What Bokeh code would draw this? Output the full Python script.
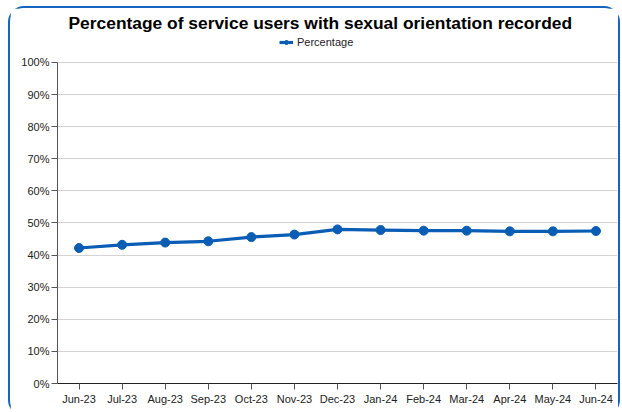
from bokeh.plotting import figure
from bokeh.models import (FactorRange, Range1d, FixedTicker, PrintfTickFormatter,
                          Legend, LegendItem, ColumnDataSource)
from bokeh.embed import file_html
from bokeh.resources import INLINE

months = ["Jun-23", "Jul-23", "Aug-23", "Sep-23", "Oct-23", "Nov-23", "Dec-23",
          "Jan-24", "Feb-24", "Mar-24", "Apr-24", "May-24", "Jun-24"]
percentage = [42.2, 43.2, 43.9, 44.3, 45.6, 46.4, 48.0, 47.8, 47.6, 47.6, 47.4, 47.4, 47.5]
y_ticks = [0, 10, 20, 30, 40, 50, 60, 70, 80, 90, 100]

FONT = "Liberation Sans"
BLUE = "#0a5db5"

src = ColumnDataSource(dict(x=months, y=percentage))

p = figure(width=612, height=410, output_backend="svg", toolbar_location=None,
           x_range=FactorRange(*months, range_padding=0), y_range=Range1d(0, 108.4),
           min_border_left=47, min_border_right=5, min_border_bottom=35, min_border_top=26)
p.styles = {"border": "2px solid #1565c0", "border-radius": "16px",
            "margin-left": "8px", "margin-top": "6px", "margin-bottom": "-12px"}

p.title.text = "Percentage of service users with sexual orientation recorded"
p.title.text_font = FONT
p.title.text_font_size = "17.4px"
p.title.text_font_style = "bold"
p.title.text_color = "#000000"
p.title.align = "left"
p.title.offset = 11
p.title.standoff = 5

ln = p.line("x", "y", source=src, line_color=BLUE, line_width=3.2)
sc = p.scatter("x", "y", source=src, marker="circle", size=9, fill_color=BLUE, line_color=BLUE)

legend = Legend(items=[LegendItem(label="Percentage", renderers=[ln, sc])],
                orientation="horizontal", location=(222, 335),
                label_text_font=FONT, label_text_font_size="11px", label_text_color="#222222",
                glyph_width=14, glyph_height=10, label_standoff=4,
                padding=0, margin=0, spacing=0, border_line_alpha=0,
                background_fill_alpha=0, label_height=12)
p.add_layout(legend)

p.outline_line_color = None
p.background_fill_color = "white"
p.xgrid.grid_line_color = None
p.ygrid.grid_line_color = "#d4d4d4"
p.ygrid.grid_line_width = 1

p.yaxis.ticker = FixedTicker(ticks=y_ticks)
p.yaxis.bounds = (0, 100)
p.yaxis.formatter = PrintfTickFormatter(format="%d%%")
for ax in (p.xaxis, p.yaxis):
    ax.major_label_text_font = FONT
    ax.major_label_text_font_size = "11px"
    ax.major_label_text_color = "#222222"
    ax.minor_tick_line_color = None
    ax.major_tick_in = 0
    ax.major_tick_out = 6
    ax.axis_line_color = "#555555"
    ax.major_tick_line_color = "#555555"
    ax.major_label_standoff = 2
p.xaxis.axis_line_color = "#222222"
p.xaxis.major_label_standoff = 3

open("out.html", "w").write(file_html(p, INLINE))
